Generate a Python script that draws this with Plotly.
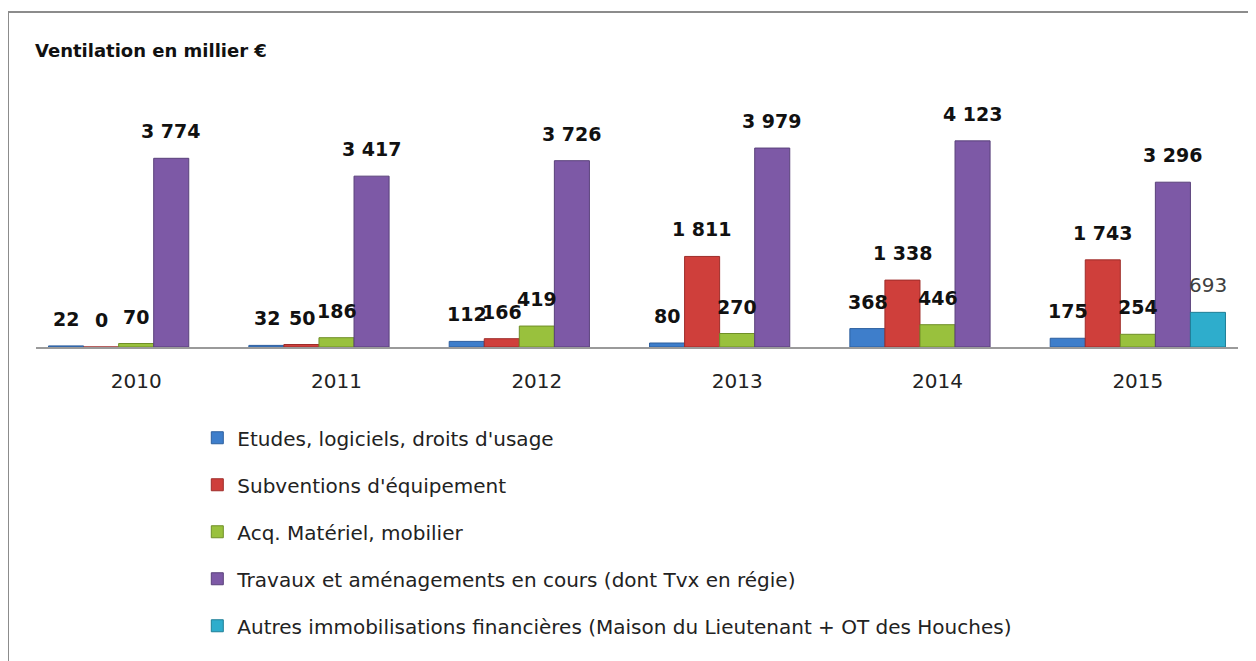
import plotly.graph_objects as go

years = ["2010", "2011", "2012", "2013", "2014", "2015"]

etudes = [22, 32, 112, 80, 368, 175]
subventions = [0, 50, 166, 1811, 1338, 1743]
materiel = [70, 186, 419, 270, 446, 254]
travaux = [3774, 3417, 3726, 3979, 4123, 3296]
autres = [None, None, None, None, None, 693]

series_names = [
    "Etudes, logiciels, droits d'usage",
    "Subventions d'équipement",
    "Acq. Matériel, mobilier",
    "Travaux et aménagements en cours (dont Tvx en régie)",
    "Autres immobilisations financières (Maison du Lieutenant + OT des Houches)",
]
series_values = [etudes, subventions, materiel, travaux, autres]
colors = ["#3E7ECB", "#CF3F3B", "#99C13D", "#7D59A6", "#2EADCC"]
edges = ["#2D5F9E", "#9E2D2A", "#6F8F27", "#59407A", "#1F7F97"]

BAR_PX = 35  # width of one bar in pixels (200 px per category, bargap 0.125)

fig = go.Figure()
for k, (name, vals) in enumerate(zip(series_names, series_values)):
    fig.add_trace(go.Bar(
        x=years, y=vals, name=name, legendgroup=name,
        marker=dict(color=colors[k], line=dict(color=edges[k], width=1)),
    ))

# data labels above the bars (x given as category index)
annotations = []
for k, vals in enumerate(series_values):
    for j, v in enumerate(vals):
        if v is None:
            continue
        txt = f"{v:,}".replace(",", " ")
        last = k == 4
        annotations.append(dict(
            x=j, y=v, xref="x", yref="y", text=txt, showarrow=False,
            xshift=(k - 2) * BAR_PX, yshift=27, yanchor="middle",
            font=dict(family="DejaVu Sans", size=19 if not last else 20,
                      color="#404040" if last else "#111111",
                      weight="normal" if last else "bold"),
        ))

annotations.append(dict(
    x=-0.0025, y=1.188, xref="paper", yref="paper", xanchor="left",
    yanchor="middle", showarrow=False, text="<b>Ventilation en millier €</b>",
    font=dict(family="DejaVu Sans", size=18, color="#111111"),
))

# frame: only top and left edges are visible in the source
frame = dict(type="line", xref="paper", yref="paper",
             line=dict(color="#8C8C8C", width=2))
shapes = [
    dict(frame, x0=-0.0233, x1=1.05, y0=1.34, y1=1.34),
    dict(frame, x0=-0.0233, x1=-0.0233, y0=-1.3, y1=1.34),
]

# the page body adds an 8px offset, margins compensate for it
fig.update_layout(
    width=1256, height=661,
    margin=dict(l=28, r=26, t=89, b=322, autoexpand=False),
    paper_bgcolor="white", plot_bgcolor="white",
    barmode="group", bargap=0.125, bargroupgap=0,
    showlegend=True,
    legend=dict(
        orientation="v", x=0.1342, xanchor="left", y=-0.285, yanchor="top",
        traceorder="grouped", tracegroupgap=18,
        font=dict(family="DejaVu Sans", size=20, color="#222222"),
        bgcolor="rgba(0,0,0,0)",
    ),
    annotations=annotations,
    shapes=shapes,
)
fig.update_xaxes(
    type="category", range=[-0.5, 5.5], automargin=False,
    showline=True, linecolor="#9A9A9A", linewidth=1.5,
    ticks="outside", ticklen=15, tickcolor="rgba(0,0,0,0)",
    tickfont=dict(family="DejaVu Sans", size=20, color="#222222"),
    showgrid=False, zeroline=False,
)
fig.update_yaxes(range=[0, 5000], visible=False, showgrid=False, zeroline=False)

fig.write_html("out.html")
